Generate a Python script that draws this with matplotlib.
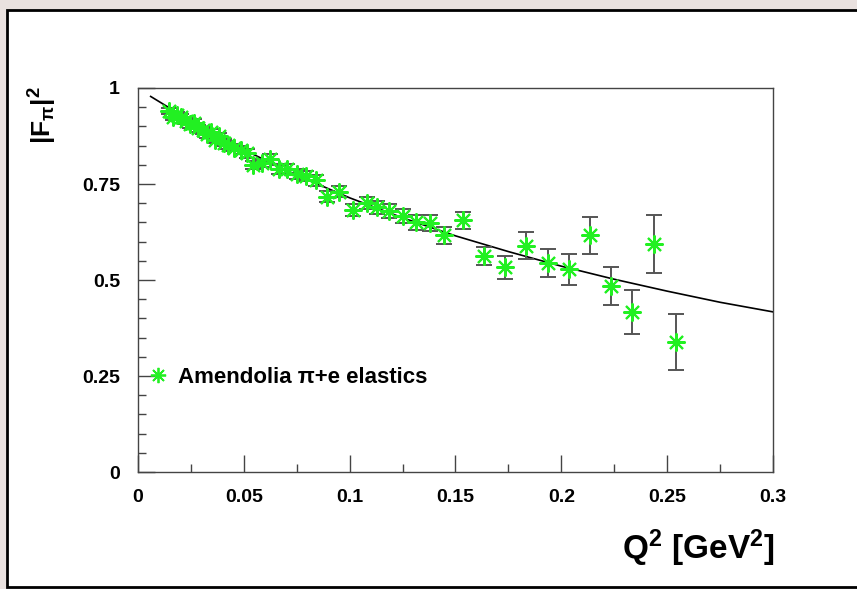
# Pion form factor squared vs Q^2 with Amendolia pi+e elastic data
import numpy as np
import matplotlib.pyplot as plt
from matplotlib.patches import Rectangle
from matplotlib.lines import Line2D

plt.rcParams['font.family'] = ['Liberation Sans', 'DejaVu Sans']
plt.rcParams['mathtext.default'] = 'regular'

# Data
q2 = [0.0145, 0.0165, 0.0185, 0.0205, 0.0225, 0.0245, 0.0265, 0.0285, 0.0305, 0.0325,
      0.0345, 0.0365, 0.0385, 0.0405, 0.0425, 0.0455, 0.0485, 0.0515, 0.0545, 0.0585,
      0.0625, 0.0665, 0.0705, 0.0750, 0.0795, 0.0840, 0.0895, 0.0950, 0.1015, 0.1080,
      0.1130, 0.1185, 0.1250, 0.1315, 0.1380, 0.1445, 0.1535, 0.1635, 0.1735, 0.1835,
      0.1935, 0.2035, 0.2135, 0.2235, 0.2335, 0.2440, 0.2540]
ff2 = [0.940, 0.925, 0.930, 0.925, 0.915, 0.905, 0.910, 0.895, 0.890, 0.880,
       0.885, 0.865, 0.875, 0.858, 0.852, 0.845, 0.838, 0.830, 0.800, 0.804,
       0.815, 0.788, 0.790, 0.775, 0.770, 0.760, 0.717, 0.730, 0.682, 0.700,
       0.690, 0.680, 0.667, 0.650, 0.648, 0.617, 0.655, 0.562, 0.533, 0.589,
       0.545, 0.528, 0.617, 0.484, 0.417, 0.594, 0.338]
ff2_err = [0.008, 0.008, 0.008, 0.008, 0.008, 0.008, 0.008, 0.009, 0.009, 0.009,
           0.009, 0.009, 0.009, 0.010, 0.010, 0.010, 0.010, 0.011, 0.011, 0.011,
           0.012, 0.012, 0.012, 0.013, 0.013, 0.014, 0.014, 0.015, 0.016, 0.016,
           0.017, 0.018, 0.019, 0.020, 0.021, 0.022, 0.021, 0.024, 0.030, 0.035,
           0.036, 0.040, 0.048, 0.049, 0.058, 0.075, 0.073]

# Curve
curve_q2 = [0.006, 0.025, 0.05, 0.075, 0.1, 0.125, 0.15, 0.175, 0.2, 0.225, 0.25, 0.275, 0.3]
curve_ff2 = [0.978, 0.914, 0.839, 0.773, 0.714, 0.662, 0.615, 0.574, 0.536, 0.502, 0.471, 0.442, 0.417]

fig = plt.figure(figsize=(8.57, 5.89), dpi=100)
fig.patch.set_facecolor('#e9e1df')
fig.patches.append(Rectangle((0.0082, 0.0034), 1.1, 0.9796, transform=fig.transFigure,
                             facecolor='white', edgecolor='black', linewidth=2,
                             zorder=-10))

ax = fig.add_axes([0.161, 0.1986, 0.741, 0.652])
ax.plot(curve_q2, curve_ff2, color='black', linewidth=1.2, zorder=2)
ax.errorbar(q2, ff2, yerr=ff2_err, fmt='none', ecolor='#555555', elinewidth=1.4,
            capsize=6, capthick=1.4, zorder=3)
ax.plot(q2, ff2, linestyle='none', marker=(8, 2, 0), markersize=13,
        markeredgecolor='#22f022', markeredgewidth=1.5, zorder=4)

ax.set_xlim(0, 0.3)
ax.set_ylim(0, 1)
ax.set_xticks(np.arange(0, 0.31, 0.05))
ax.set_xticklabels(['0', '0.05', '0.1', '0.15', '0.2', '0.25', '0.3'])
ax.set_xticks(np.arange(0, 0.31, 0.025), minor=True)
ax.set_yticks([0, 0.25, 0.5, 0.75, 1])
ax.set_yticklabels(['0', '0.25', '0.5', '0.75', '1'])
ax.set_yticks(np.arange(0, 1.01, 0.05), minor=True)
ax.tick_params(which='both', direction='in', color='#444444', width=1)
ax.tick_params(which='major', length=12)
ax.tick_params(which='minor', length=6)
ax.tick_params(axis='x', pad=12, labelsize=14)
ax.tick_params(axis='y', pad=13, labelsize=14)
for lab in ax.get_xticklabels() + ax.get_yticklabels():
    lab.set_fontweight('bold')
for sp in ax.spines.values():
    sp.set_color('#444444')
    sp.set_linewidth(1)

# Legend
h = Line2D([], [], linestyle='none', marker=(8, 2, 0), markersize=11,
           markeredgecolor='#22f022', markeredgewidth=1.3)
ax.legend(handles=[h], labels=['Amendolia \u03c0+e elastics'], loc='center left',
          bbox_to_anchor=(0.0, 0.247), frameon=False, handlelength=1.0,
          borderaxespad=0, handletextpad=0.4, prop={'weight': 'bold', 'size': 16})

# Axis titles
fig.text(0.904, 1 - 548 / 589, 'Q$^{2}$ [GeV$^{2}$]', ha='right', va='center',
         fontsize=24, fontweight='bold')
fig.text(0.05, 1 - 86 / 589, '|F$_{\u03c0}$|$^{2}$', rotation=90, ha='center',
         va='top', fontsize=19, fontweight='bold')

plt.savefig('out.png', dpi=100, facecolor=fig.get_facecolor())
